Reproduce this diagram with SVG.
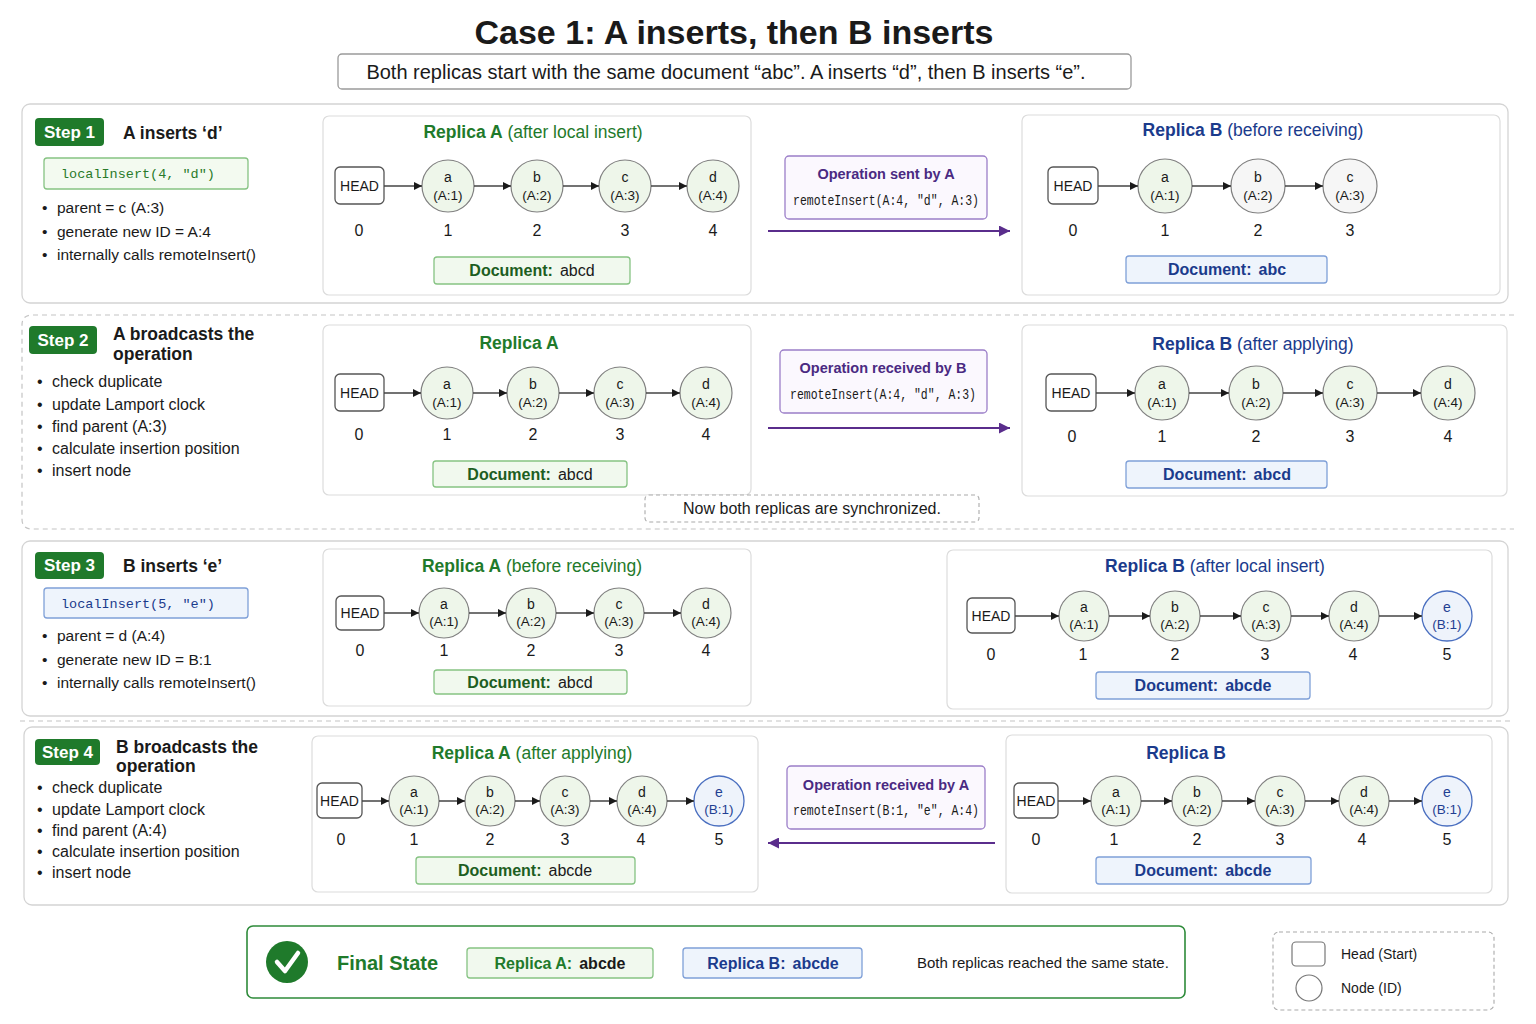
<svg xmlns="http://www.w3.org/2000/svg" width="1536" height="1024" viewBox="0 0 1536 1024">
<defs>
<marker id="ah" viewBox="0 0 10 10" refX="10" refY="5" markerWidth="8" markerHeight="8" orient="auto" markerUnits="userSpaceOnUse"><path d="M0,0 L10,5 L0,10 z" fill="#1a1a1a"/></marker>
<marker id="ap" viewBox="0 0 10 10" refX="10" refY="5" markerWidth="11" markerHeight="11" orient="auto" markerUnits="userSpaceOnUse"><path d="M0,0 L10,5 L0,10 z" fill="#5a2d8c"/></marker>
<style>
text{font-family:"Liberation Sans",Arial,sans-serif;fill:#1a1a1a}
.mono{font-family:"Liberation Mono","DejaVu Sans Mono",monospace}
.panel{fill:#fff;stroke:#d4d4d4;stroke-width:1.3}
.dpanel{fill:none;stroke:#c4c4c4;stroke-width:1.2;stroke-dasharray:5 4}
.inner{fill:#fff;stroke:#dcdcdc;stroke-width:1.2}
.badge{fill:#1f7a2b}
.badget{fill:#fff;font-weight:bold;font-size:17px}
.stitle{font-weight:bold;font-size:17.5px}
.bul{font-size:15.5px}
.bul2{font-size:16px}
.codeg{fill:#f3faf0;stroke:#86c383;stroke-width:1.3}
.codeb{fill:#eef4fc;stroke:#7fa0d8;stroke-width:1.3}
.head{fill:#fff;stroke:#555;stroke-width:1.3}
.ng{fill:#eef6ea;stroke:#808080;stroke-width:1.2}
.nw{fill:#f6f6f6;stroke:#808080;stroke-width:1.2}
.nb{fill:#eef3fb;stroke:#4a6fc0;stroke-width:1.3}
.nl{font-size:14px;text-anchor:middle}
.nid{font-size:13.5px;text-anchor:middle}
.blt{fill:#1f3f92}
.ht{font-size:14px;text-anchor:middle}
.idx{font-size:16px;text-anchor:middle}
.docg{fill:#f1f9ee;stroke:#86c383;stroke-width:1.3}
.docb{fill:#eef4fc;stroke:#7fa0d8;stroke-width:1.3}
.dt{font-size:16px;text-anchor:middle}
.gk{fill:#1d5e22;font-weight:bold}
.bk{fill:#1b3b8c;font-weight:bold}
.rtg{font-size:17.5px;text-anchor:middle;fill:#1f7a2b}
.rtb{font-size:17.5px;text-anchor:middle;fill:#1b3b8c}
.op{fill:#fbf8fe;stroke:#9b7ec8;stroke-width:1.3}
.opt{font-size:14.5px;font-weight:bold;fill:#4a2a82;text-anchor:middle}
.opc{font-size:14px;text-anchor:middle}
.edge{stroke:#444;stroke-width:1.5;fill:none;marker-end:url(#ah)}
.pedge{stroke:#5a2d8c;stroke-width:2;fill:none;marker-end:url(#ap)}
</style>
</defs>
<rect width="1536" height="1024" fill="#fff"/>

<g id="title">
<text x="734" y="44" text-anchor="middle" style="font-size:34px;font-weight:bold">Case 1: A inserts, then B inserts</text>
<rect x="338" y="54" width="793" height="35" rx="4" fill="#fff" stroke="#9a9a9a" stroke-width="1.3"/>
<text x="726" y="79" text-anchor="middle" style="font-size:20px">Both replicas start with the same document “abc”. A inserts “d”, then B inserts “e”.</text>
</g>

<g id="panels">
<rect class="panel" x="22" y="104" width="1486" height="199" rx="8"/>
<path class="dpanel" d="M1514,315 H32 Q22,315 22,325 V519 Q22,529 32,529 H1514"/>
<rect class="panel" x="22" y="541" width="1486" height="175" rx="8"/>
<line class="dpanel" x1="20" y1="721" x2="1514" y2="721"/>
<rect class="panel" x="24" y="727" width="1484" height="178" rx="8"/>
</g>

<!-- STEP 1 -->
<g id="step1-text">
<rect class="badge" x="35" y="118" width="69" height="28" rx="4"/>
<text class="badget" x="69.5" y="138" text-anchor="middle">Step 1</text>
<text class="stitle" x="123" y="139">A inserts ‘d’</text>
<rect class="codeg" x="44" y="158" width="204" height="31" rx="3"/>
<text class="mono" x="61" y="178" style="font-size:13.5px;fill:#2a7a2a">localInsert(4, "d")</text>
<text class="bul" x="42" y="213">•</text><text class="bul" x="57" y="213">parent = c (A:3)</text>
<text class="bul" x="42" y="237">•</text><text class="bul" x="57" y="237">generate new ID = A:4</text>
<text class="bul" x="42" y="260">•</text><text class="bul" x="57" y="260">internally calls remoteInsert()</text>
</g>

<g id="step1-replicaA">
<rect class="inner" x="323" y="116" width="428" height="179" rx="6"/>
<text class="rtg" x="533" y="138"><tspan font-weight="bold">Replica A</tspan> (after local insert)</text>
<rect class="head" x="335" y="167" width="49" height="37" rx="5"/><text class="ht" x="359.5" y="191">HEAD</text>
<circle class="ng" cx="448" cy="186" r="26"/><text class="nl" x="448" y="182">a</text><text class="nid" x="448" y="200">(A:1)</text>
<circle class="ng" cx="537" cy="186" r="26"/><text class="nl" x="537" y="182">b</text><text class="nid" x="537" y="200">(A:2)</text>
<circle class="ng" cx="625" cy="186" r="26"/><text class="nl" x="625" y="182">c</text><text class="nid" x="625" y="200">(A:3)</text>
<circle class="ng" cx="713" cy="186" r="26"/><text class="nl" x="713" y="182">d</text><text class="nid" x="713" y="200">(A:4)</text>
<text class="idx" x="359" y="236">0</text><text class="idx" x="448" y="236">1</text><text class="idx" x="537" y="236">2</text><text class="idx" x="625" y="236">3</text><text class="idx" x="713" y="236">4</text>
<rect class="docg" x="434" y="257" width="196" height="27" rx="3"/>
<text class="dt" x="532" y="276"><tspan class="gk">Document:</tspan><tspan dx="7">abcd</tspan></text>
</g>

<g id="step1-op">
<rect class="op" x="785" y="156" width="202" height="63" rx="4"/>
<text class="opt" x="886" y="179">Operation sent by A</text>
<text class="opc mono" transform="translate(886,205) scale(0.82,1)" x="0" y="0">remoteInsert(A:4, "d", A:3)</text>
</g>

<g id="step1-replicaB">
<rect class="inner" x="1022" y="115" width="478" height="180" rx="6"/>
<text class="rtb" x="1253" y="136"><tspan font-weight="bold">Replica B</tspan> (before receiving)</text>
<rect class="head" x="1048" y="167" width="50" height="37" rx="5"/><text class="ht" x="1073" y="191">HEAD</text>
<circle class="ng" cx="1165" cy="186" r="27"/><text class="nl" x="1165" y="182">a</text><text class="nid" x="1165" y="200">(A:1)</text>
<circle class="nw" cx="1258" cy="186" r="27"/><text class="nl" x="1258" y="182">b</text><text class="nid" x="1258" y="200">(A:2)</text>
<circle class="nw" cx="1350" cy="186" r="27"/><text class="nl" x="1350" y="182">c</text><text class="nid" x="1350" y="200">(A:3)</text>
<text class="idx" x="1073" y="236">0</text><text class="idx" x="1165" y="236">1</text><text class="idx" x="1258" y="236">2</text><text class="idx" x="1350" y="236">3</text>
<rect class="docb" x="1126" y="256" width="201" height="27" rx="3"/>
<text class="dt bk" x="1227" y="275"><tspan class="bk">Document:</tspan><tspan class="bk" dx="7">abc</tspan></text>
</g>

<!-- STEP 2 -->
<g id="step2-text">
<rect class="badge" x="29" y="326" width="68" height="28" rx="4"/>
<text class="badget" x="63" y="346" text-anchor="middle">Step 2</text>
<text class="stitle" x="113" y="340">A broadcasts the</text>
<text class="stitle" x="113" y="360">operation</text>
<text class="bul2" x="37" y="387">•</text><text class="bul2" x="52" y="387">check duplicate</text>
<text class="bul2" x="37" y="410">•</text><text class="bul2" x="52" y="410">update Lamport clock</text>
<text class="bul2" x="37" y="432">•</text><text class="bul2" x="52" y="432">find parent (A:3)</text>
<text class="bul2" x="37" y="454">•</text><text class="bul2" x="52" y="454">calculate insertion position</text>
<text class="bul2" x="37" y="476">•</text><text class="bul2" x="52" y="476">insert node</text>
</g>

<g id="step2-replicaA">
<rect class="inner" x="323" y="325" width="428" height="170" rx="6"/>
<text class="rtg" x="519" y="349" font-weight="bold">Replica A</text>
<rect class="head" x="335" y="374" width="49" height="37" rx="5"/><text class="ht" x="359.5" y="398">HEAD</text>
<circle class="ng" cx="447" cy="393" r="26"/><text class="nl" x="447" y="389">a</text><text class="nid" x="447" y="407">(A:1)</text>
<circle class="ng" cx="533" cy="393" r="26"/><text class="nl" x="533" y="389">b</text><text class="nid" x="533" y="407">(A:2)</text>
<circle class="ng" cx="620" cy="393" r="26"/><text class="nl" x="620" y="389">c</text><text class="nid" x="620" y="407">(A:3)</text>
<circle class="ng" cx="706" cy="393" r="26"/><text class="nl" x="706" y="389">d</text><text class="nid" x="706" y="407">(A:4)</text>
<text class="idx" x="359" y="440">0</text><text class="idx" x="447" y="440">1</text><text class="idx" x="533" y="440">2</text><text class="idx" x="620" y="440">3</text><text class="idx" x="706" y="440">4</text>
<rect class="docg" x="433" y="461" width="194" height="26" rx="3"/>
<text class="dt" x="530" y="480"><tspan class="gk">Document:</tspan><tspan dx="7">abcd</tspan></text>
</g>

<g id="step2-op">
<rect class="op" x="780" y="350" width="207" height="63" rx="4"/>
<text class="opt" x="883" y="373">Operation received by B</text>
<text class="opc mono" transform="translate(883,399) scale(0.82,1)" x="0" y="0">remoteInsert(A:4, "d", A:3)</text>
</g>

<g id="step2-sync">
<rect x="645" y="495" width="334" height="27" rx="4" fill="#fff" stroke="#aaa" stroke-width="1.1" stroke-dasharray="4 3"/>
<text x="812" y="514" text-anchor="middle" style="font-size:16px">Now both replicas are synchronized.</text>
</g>

<g id="step2-replicaB">
<rect class="inner" x="1022" y="325" width="485" height="171" rx="6"/>
<text class="rtb" x="1253" y="350"><tspan font-weight="bold">Replica B</tspan> (after applying)</text>
<rect class="head" x="1046" y="374" width="50" height="37" rx="5"/><text class="ht" x="1071" y="398">HEAD</text>
<circle class="ng" cx="1162" cy="393" r="27"/><text class="nl" x="1162" y="389">a</text><text class="nid" x="1162" y="407">(A:1)</text>
<circle class="ng" cx="1256" cy="393" r="27"/><text class="nl" x="1256" y="389">b</text><text class="nid" x="1256" y="407">(A:2)</text>
<circle class="ng" cx="1350" cy="393" r="27"/><text class="nl" x="1350" y="389">c</text><text class="nid" x="1350" y="407">(A:3)</text>
<circle class="ng" cx="1448" cy="393" r="27"/><text class="nl" x="1448" y="389">d</text><text class="nid" x="1448" y="407">(A:4)</text>
<text class="idx" x="1072" y="442">0</text><text class="idx" x="1162" y="442">1</text><text class="idx" x="1256" y="442">2</text><text class="idx" x="1350" y="442">3</text><text class="idx" x="1448" y="442">4</text>
<rect class="docb" x="1126" y="461" width="201" height="27" rx="3"/>
<text class="dt" x="1227" y="480"><tspan class="bk">Document:</tspan><tspan class="bk" dx="7">abcd</tspan></text>
</g>

<!-- STEP 3 -->
<g id="step3-text">
<rect class="badge" x="35" y="552" width="69" height="27" rx="4"/>
<text class="badget" x="69.5" y="571" text-anchor="middle">Step 3</text>
<text class="stitle" x="123" y="572">B inserts ‘e’</text>
<rect class="codeb" x="44" y="588" width="204" height="30" rx="3"/>
<text class="mono" x="61" y="608" style="font-size:13.5px;fill:#1b3b8c">localInsert(5, "e")</text>
<text class="bul" x="42" y="641">•</text><text class="bul" x="57" y="641">parent = d (A:4)</text>
<text class="bul" x="42" y="665">•</text><text class="bul" x="57" y="665">generate new ID = B:1</text>
<text class="bul" x="42" y="688">•</text><text class="bul" x="57" y="688">internally calls remoteInsert()</text>
</g>

<g id="step3-replicaA">
<rect class="inner" x="323" y="549" width="428" height="157" rx="6"/>
<text class="rtg" x="532" y="572"><tspan font-weight="bold">Replica A</tspan> (before receiving)</text>
<rect class="head" x="336" y="596" width="48" height="34" rx="5"/><text class="ht" x="360" y="618">HEAD</text>
<circle class="ng" cx="444" cy="613" r="25"/><text class="nl" x="444" y="609">a</text><text class="nid" x="444" y="626">(A:1)</text>
<circle class="ng" cx="531" cy="613" r="25"/><text class="nl" x="531" y="609">b</text><text class="nid" x="531" y="626">(A:2)</text>
<circle class="ng" cx="619" cy="613" r="25"/><text class="nl" x="619" y="609">c</text><text class="nid" x="619" y="626">(A:3)</text>
<circle class="ng" cx="706" cy="613" r="25"/><text class="nl" x="706" y="609">d</text><text class="nid" x="706" y="626">(A:4)</text>
<text class="idx" x="360" y="656">0</text><text class="idx" x="444" y="656">1</text><text class="idx" x="531" y="656">2</text><text class="idx" x="619" y="656">3</text><text class="idx" x="706" y="656">4</text>
<rect class="docg" x="434" y="670" width="193" height="24" rx="3"/>
<text class="dt" x="530" y="688"><tspan class="gk">Document:</tspan><tspan dx="7">abcd</tspan></text>
</g>

<g id="step3-replicaB">
<rect class="inner" x="947" y="550" width="545" height="159" rx="6"/>
<text class="rtb" x="1215" y="572"><tspan font-weight="bold">Replica B</tspan> (after local insert)</text>
<rect class="head" x="967" y="598" width="48" height="35" rx="5"/><text class="ht" x="991" y="621">HEAD</text>
<circle class="ng" cx="1084" cy="616" r="25"/><text class="nl" x="1084" y="612">a</text><text class="nid" x="1084" y="629">(A:1)</text>
<circle class="ng" cx="1175" cy="616" r="25"/><text class="nl" x="1175" y="612">b</text><text class="nid" x="1175" y="629">(A:2)</text>
<circle class="ng" cx="1266" cy="616" r="25"/><text class="nl" x="1266" y="612">c</text><text class="nid" x="1266" y="629">(A:3)</text>
<circle class="ng" cx="1354" cy="616" r="25"/><text class="nl" x="1354" y="612">d</text><text class="nid" x="1354" y="629">(A:4)</text>
<circle class="nb" cx="1447" cy="616" r="25"/><text class="nl blt" x="1447" y="612">e</text><text class="nid blt" x="1447" y="629">(B:1)</text>
<text class="idx" x="991" y="660">0</text><text class="idx" x="1083" y="660">1</text><text class="idx" x="1175" y="660">2</text><text class="idx" x="1265" y="660">3</text><text class="idx" x="1353" y="660">4</text><text class="idx" x="1447" y="660">5</text>
<rect class="docb" x="1096" y="672" width="214" height="27" rx="3"/>
<text class="dt" x="1203" y="691"><tspan class="bk">Document:</tspan><tspan class="bk" dx="7">abcde</tspan></text>
</g>

<!-- STEP 4 -->
<g id="step4-text">
<rect class="badge" x="35" y="739" width="65" height="26" rx="4"/>
<text class="badget" x="67.5" y="758" text-anchor="middle">Step 4</text>
<text class="stitle" x="116" y="753">B broadcasts the</text>
<text class="stitle" x="116" y="772">operation</text>
<text class="bul2" x="37" y="793">•</text><text class="bul2" x="52" y="793">check duplicate</text>
<text class="bul2" x="37" y="815">•</text><text class="bul2" x="52" y="815">update Lamport clock</text>
<text class="bul2" x="37" y="836">•</text><text class="bul2" x="52" y="836">find parent (A:4)</text>
<text class="bul2" x="37" y="857">•</text><text class="bul2" x="52" y="857">calculate insertion position</text>
<text class="bul2" x="37" y="878">•</text><text class="bul2" x="52" y="878">insert node</text>
</g>

<g id="step4-replicaA">
<rect class="inner" x="312" y="736" width="446" height="156" rx="6"/>
<text class="rtg" x="532" y="759"><tspan font-weight="bold">Replica A</tspan> (after applying)</text>
<rect class="head" x="317" y="783" width="45" height="35" rx="5"/><text class="ht" x="339.5" y="806">HEAD</text>
<circle class="ng" cx="414" cy="801" r="25"/><text class="nl" x="414" y="797">a</text><text class="nid" x="414" y="814">(A:1)</text>
<circle class="ng" cx="490" cy="801" r="25"/><text class="nl" x="490" y="797">b</text><text class="nid" x="490" y="814">(A:2)</text>
<circle class="ng" cx="565" cy="801" r="25"/><text class="nl" x="565" y="797">c</text><text class="nid" x="565" y="814">(A:3)</text>
<circle class="ng" cx="642" cy="801" r="25"/><text class="nl" x="642" y="797">d</text><text class="nid" x="642" y="814">(A:4)</text>
<circle class="nb" cx="719" cy="801" r="25"/><text class="nl blt" x="719" y="797">e</text><text class="nid blt" x="719" y="814">(B:1)</text>
<text class="idx" x="341" y="845">0</text><text class="idx" x="414" y="845">1</text><text class="idx" x="490" y="845">2</text><text class="idx" x="565" y="845">3</text><text class="idx" x="641" y="845">4</text><text class="idx" x="719" y="845">5</text>
<rect class="docg" x="416" y="857" width="219" height="27" rx="3"/>
<text class="dt" x="525" y="876"><tspan class="gk">Document:</tspan><tspan dx="7">abcde</tspan></text>
</g>

<g id="step4-op">
<rect class="op" x="787" y="766" width="198" height="63" rx="4"/>
<text class="opt" x="886" y="790">Operation received by A</text>
<text class="opc mono" transform="translate(886,815) scale(0.82,1)" x="0" y="0">remoteInsert(B:1, "e", A:4)</text>
</g>

<g id="step4-replicaB">
<rect class="inner" x="1006" y="735" width="486" height="158" rx="6"/>
<text class="rtb" x="1186" y="759" font-weight="bold">Replica B</text>
<rect class="head" x="1014" y="783" width="44" height="35" rx="5"/><text class="ht" x="1036" y="806">HEAD</text>
<circle class="ng" cx="1116" cy="801" r="25"/><text class="nl" x="1116" y="797">a</text><text class="nid" x="1116" y="814">(A:1)</text>
<circle class="ng" cx="1197" cy="801" r="25"/><text class="nl" x="1197" y="797">b</text><text class="nid" x="1197" y="814">(A:2)</text>
<circle class="ng" cx="1280" cy="801" r="25"/><text class="nl" x="1280" y="797">c</text><text class="nid" x="1280" y="814">(A:3)</text>
<circle class="ng" cx="1364" cy="801" r="25"/><text class="nl" x="1364" y="797">d</text><text class="nid" x="1364" y="814">(A:4)</text>
<circle class="nb" cx="1447" cy="801" r="25"/><text class="nl blt" x="1447" y="797">e</text><text class="nid blt" x="1447" y="814">(B:1)</text>
<text class="idx" x="1036" y="845">0</text><text class="idx" x="1114" y="845">1</text><text class="idx" x="1197" y="845">2</text><text class="idx" x="1280" y="845">3</text><text class="idx" x="1362" y="845">4</text><text class="idx" x="1447" y="845">5</text>
<rect class="docb" x="1096" y="857" width="215" height="27" rx="3"/>
<text class="dt" x="1203" y="876"><tspan class="bk">Document:</tspan><tspan class="bk" dx="7">abcde</tspan></text>
</g>

<!-- FINAL -->
<g id="final">
<rect x="247" y="926" width="938" height="72" rx="6" fill="#fff" stroke="#2e8b3a" stroke-width="1.6"/>
<circle cx="287" cy="962" r="21" fill="#1f7a2b"/>
<path d="M277,962 L285,971 L298,953" fill="none" stroke="#fff" stroke-width="4.5" stroke-linecap="round" stroke-linejoin="round"/>
<text x="337" y="970" style="font-size:20px;font-weight:bold;fill:#1f7a2b">Final State</text>
<rect class="docg" x="467" y="948" width="186" height="30" rx="3"/>
<text class="dt" x="560" y="969" style="font-size:16px;font-weight:bold"><tspan style="fill:#1f7a2b">Replica A:</tspan><tspan dx="7">abcde</tspan></text>
<rect class="docb" x="683" y="948" width="179" height="30" rx="3"/>
<text class="dt" x="773" y="969" style="font-size:16px;font-weight:bold;fill:#1b3b8c">Replica B:<tspan dx="7">abcde</tspan></text>
<text x="917" y="968" style="font-size:15px">Both replicas reached the same state.</text>
</g>

<g id="legend">
<rect x="1273" y="932" width="221" height="78" rx="6" fill="#fff" stroke="#aaa" stroke-width="1.1" stroke-dasharray="4 3"/>
<rect x="1292" y="942" width="33" height="24" rx="4" fill="#fff" stroke="#777" stroke-width="1.2"/>
<text x="1341" y="959" style="font-size:14px">Head (Start)</text>
<circle cx="1309" cy="988" r="13" fill="#fff" stroke="#777" stroke-width="1.2"/>
<text x="1341" y="993" style="font-size:14px">Node (ID)</text>
</g>

<g id="connectors">
<line class="edge" x1="384" y1="186" x2="422" y2="186"/>
<line class="edge" x1="474" y1="186" x2="511" y2="186"/>
<line class="edge" x1="563" y1="186" x2="599" y2="186"/>
<line class="edge" x1="651" y1="186" x2="687" y2="186"/>
<line class="edge" x1="1098" y1="186" x2="1138" y2="186"/>
<line class="edge" x1="1192" y1="186" x2="1231" y2="186"/>
<line class="edge" x1="1285" y1="186" x2="1323" y2="186"/>
<line class="pedge" x1="768" y1="231" x2="1010" y2="231"/>

<line class="edge" x1="384" y1="393" x2="421" y2="393"/>
<line class="edge" x1="473" y1="393" x2="507" y2="393"/>
<line class="edge" x1="559" y1="393" x2="594" y2="393"/>
<line class="edge" x1="646" y1="393" x2="680" y2="393"/>
<line class="edge" x1="1096" y1="393" x2="1135" y2="393"/>
<line class="edge" x1="1189" y1="393" x2="1229" y2="393"/>
<line class="edge" x1="1283" y1="393" x2="1323" y2="393"/>
<line class="edge" x1="1377" y1="393" x2="1421" y2="393"/>
<line class="pedge" x1="768" y1="428" x2="1010" y2="428"/>

<line class="edge" x1="384" y1="613" x2="419" y2="613"/>
<line class="edge" x1="469" y1="613" x2="506" y2="613"/>
<line class="edge" x1="556" y1="613" x2="594" y2="613"/>
<line class="edge" x1="644" y1="613" x2="681" y2="613"/>
<line class="edge" x1="1015" y1="616" x2="1059" y2="616"/>
<line class="edge" x1="1109" y1="616" x2="1150" y2="616"/>
<line class="edge" x1="1200" y1="616" x2="1241" y2="616"/>
<line class="edge" x1="1291" y1="616" x2="1329" y2="616"/>
<line class="edge" x1="1379" y1="616" x2="1422" y2="616"/>

<line class="edge" x1="362" y1="801" x2="389" y2="801"/>
<line class="edge" x1="439" y1="801" x2="465" y2="801"/>
<line class="edge" x1="515" y1="801" x2="540" y2="801"/>
<line class="edge" x1="590" y1="801" x2="617" y2="801"/>
<line class="edge" x1="667" y1="801" x2="694" y2="801"/>
<line class="edge" x1="1058" y1="801" x2="1091" y2="801"/>
<line class="edge" x1="1141" y1="801" x2="1172" y2="801"/>
<line class="edge" x1="1222" y1="801" x2="1255" y2="801"/>
<line class="edge" x1="1305" y1="801" x2="1339" y2="801"/>
<line class="edge" x1="1389" y1="801" x2="1422" y2="801"/>
<line class="pedge" x1="995" y1="843" x2="768" y2="843"/>
</g>
</svg>
